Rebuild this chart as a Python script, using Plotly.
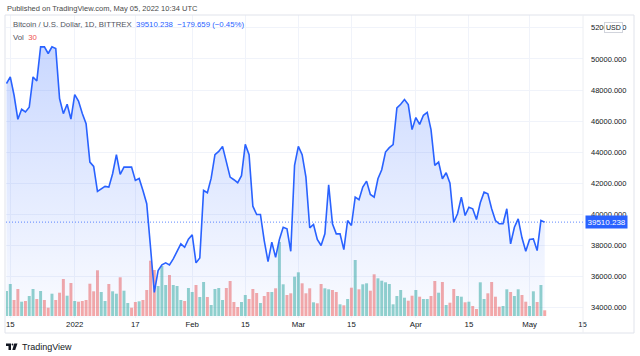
import pandas as pd
import plotly.graph_objects as go

# ---------------- data ----------------
start_date = "2021-12-14"

close = [
    48416, 48841, 47663, 46118, 46761, 46587, 46890, 48841, 48583, 50773,
    50773, 50348, 50773, 50670, 47450, 46484, 47083, 46136, 47708, 47296,
    46484, 45840, 43368, 43091, 41481, 41655, 41803, 41758, 42621, 43844,
    42576, 43046, 43060, 43046, 42189, 42318, 41545, 40689, 37894, 34997,
    36394, 36761, 36890, 36761, 37147, 37637, 38113, 37894, 38410, 38693,
    36890, 37212, 41545, 41397, 42337, 43844, 44057, 44379, 43368, 42402,
    42234, 42041, 42492, 44508, 43844, 40534, 40000, 40000, 38326, 36974,
    38216, 37250, 38390, 39182, 39079, 37637, 43155, 44379, 43844, 42402,
    39144, 39356, 38390, 38004, 38757, 41912, 39401, 38757, 38757, 37746,
    39614, 39292, 41114, 40947, 41758, 42144, 41288, 41114, 42299, 42878,
    44012, 44295, 44488, 46845, 47083, 47386, 47064, 45454, 46227, 45795,
    46375, 46568, 45454, 43155, 43368, 42299, 42685, 42015, 39504, 40045,
    41114, 39936, 40470, 40367, 39678, 40753, 41436, 41333, 40367, 39614,
    39401, 39401, 40367, 38113, 39182, 39723, 38500, 37637, 38390, 38435,
    37682, 39614, 39510.238,
]

volume = [
    25, 32, 16, 27, 14.3, 15, 20, 27, 17, 25,
    16, 8.3, 22.3, 16, 23.3, 37, 20.3, 33, 15, 14.3,
    15, 16, 32.3, 24.7, 45.7, 24, 15, 32, 24.7, 22.3,
    38.7, 25.3, 13, 8.3, 14, 14.7, 16, 26, 55.3, 46,
    30, 50, 31, 41, 31, 30, 16, 15, 28, 24,
    31, 19, 34, 19, 11, 27, 28, 16, 28, 35,
    14, 9, 14, 21, 17, 27, 23, 13, 20, 24,
    24, 27.7, 74, 31.7, 21, 22.7, 39.3, 43.7, 32.7, 22.7,
    27.7, 13.7, 12.7, 32, 27.7, 26.7, 26, 24, 11.7, 10.7,
    17, 28.3, 56, 26.7, 31.7, 32.7, 25.3, 41.7, 37.7, 35.3,
    33.7, 32, 11.7, 20, 26, 18.3, 15.3, 20.3, 26, 19.3,
    17, 17, 20, 35, 23.3, 34, 11, 13.3, 27, 20,
    19.3, 13.7, 14.3, 10, 7, 33.7, 17, 22.7, 34, 19.3,
    9.3, 10, 26.7, 24, 20, 26.7, 21, 14.3, 10, 24.7,
    14, 31, 5.7,
]

# u = up day (teal volume bar), d = down day (red volume bar)
direction = ("uudduduudu" "ddudddudud" "ddddduuduu" "duuddudddd" "uuuduuuduu"
             "duuduuuudd" "dduudddudd" "uduudduudd" "dudduuddud" "ududuudduu"
             "uuuuuuddud" "uuddududdu" "ududduuddd" "duuduudduu" "dud")

tick_dates = ["2021-12-15", "2022-01-01", "2022-01-17", "2022-02-01", "2022-02-15",
              "2022-03-01", "2022-03-15", "2022-04-01", "2022-04-15", "2022-05-01",
              "2022-05-15"]
tick_text = ["15", "2022", "17", "Feb", "15", "Mar", "15", "Apr", "15", "May", "15"]

last_price = close[-1]
change = -179.659
change_pct = -0.45

# ---------------- styling ----------------
W, H = 640, 356
PL, PR, PT, PB = 6, 583, 15, 318   # plot area in pixels
FONT = "Liberation Sans, Arial, sans-serif"
TXT = "#131722"
BLUE = "#2962FF"
UP = "rgba(38,166,154,0.5)"
DOWN = "rgba(239,83,80,0.5)"
GRID = "#f0f3fa"

def px(x):
    return (x - PL) / (PR - PL)

def py(y):
    return (PB - y) / (PB - PT)

dates = pd.date_range(start_date, periods=len(close), freq="D")
day = pd.Timedelta(days=1)
x_range = [dates[0] - 0.13 * day, dates[0] + 152.1 * day]

bar_colors = [UP if c == "u" else DOWN for c in direction]

fig = go.Figure()

# volume (bottom layer)
fig.add_trace(go.Bar(
    x=dates, y=volume, marker=dict(color=bar_colors, line=dict(width=0)),
    width=0.78 * 86400000, yaxis="y", hoverinfo="skip", showlegend=False,
))

# price area + line
fig.add_trace(go.Scatter(
    x=dates, y=close, mode="lines", yaxis="y2",
    line=dict(color=BLUE, width=1.6),
    fill="tozeroy",
    fillgradient=dict(type="vertical", start=33300, stop=50800,
                      colorscale=[[0, "rgba(41,98,255,0.02)"],
                                  [1, "rgba(41,98,255,0.25)"]]),
    showlegend=False, hoverinfo="skip",
))

fig.update_layout(
    width=W, height=H,
    margin=dict(l=PL, r=W - PR, t=PT, b=H - PB, pad=0),
    paper_bgcolor="white", plot_bgcolor="white",
    font=dict(family=FONT, size=8, color=TXT),
    bargap=0.2,
    xaxis=dict(type="date", range=x_range, tickvals=tick_dates, ticktext=tick_text,
               showgrid=True, gridcolor=GRID, gridwidth=1, zeroline=False,
               showline=False, ticks="", tickfont=dict(size=7.8, color=TXT),
               fixedrange=True),
    yaxis=dict(range=[-2, 301], visible=False, showgrid=False, fixedrange=True),
    yaxis2=dict(overlaying="y", side="right", range=[33348, 52821],
                tick0=0, dtick=2000, tickformat=".3f", showgrid=True,
                gridcolor=GRID, gridwidth=1, zeroline=False, showline=False,
                ticks="", ticklabelstandoff=7, tickfont=dict(size=7.5, color=TXT),
                fixedrange=True),
)

shapes = [
    # chart frame
    dict(type="rect", xref="paper", yref="paper", x0=px(5), x1=px(634),
         y0=py(15), y1=py(333), line=dict(color="#e0e3eb", width=1), layer="above"),
    # price-scale separator
    dict(type="line", xref="paper", yref="paper", x0=px(583), x1=px(583),
         y0=py(15), y1=py(333), line=dict(color="#eceef2", width=1)),
    # last price dotted line
    dict(type="line", xref="paper", yref="y2", x0=0, x1=1, y0=last_price, y1=last_price,
         line=dict(color="rgba(41,98,255,0.75)", width=1, dash="1px,2px")),
    # TradingView logo glyph
    dict(type="path", xref="paper", yref="paper",
         path=(f"M {px(6)},{py(343.5)} L {px(11)},{py(343.5)} L {px(11)},{py(350)} "
               f"L {px(8.5)},{py(350)} L {px(8.5)},{py(346)} L {px(6)},{py(346)} Z"),
         fillcolor=TXT, line=dict(width=0)),
    dict(type="circle", xref="paper", yref="paper", x0=px(11.6), x1=px(13.4),
         y0=py(343.6), y1=py(345.4), fillcolor=TXT, line=dict(width=0)),
    dict(type="path", xref="paper", yref="paper",
         path=(f"M {px(14.2)},{py(343.5)} L {px(17.5)},{py(343.5)} L {px(15.2)},{py(350)} "
               f"L {px(12.3)},{py(350)} Z"),
         fillcolor=TXT, line=dict(width=0)),
]

annotations = [
    dict(text="Published on TradingView.com, May 05, 2022 10:34 UTC",
         xref="paper", yref="paper", x=px(5), y=py(8), xanchor="left", yanchor="middle",
         showarrow=False, font=dict(size=7.5, color="#4a4a4a")),
    dict(text=(f"Bitcoin / U.S. Dollar, 1D, BITTREX  "
               f"<span style='color:{BLUE}'>{last_price:.3f}  "
               f"\u2212{abs(change):.3f} (\u2212{abs(change_pct):.2f}%)</span>"),
         xref="paper", yref="paper", x=px(11), y=py(25), xanchor="left", yanchor="middle",
         showarrow=False, font=dict(size=7.8, color="#50535e")),
    dict(text="Vol  <span style='color:#ef5350'>30</span>",
         xref="paper", yref="paper", x=px(11), y=py(37), xanchor="left", yanchor="middle",
         showarrow=False, font=dict(size=7.8, color="#50535e")),
    dict(text=f"{last_price:.3f}", xref="paper", yref="y2", x=px(585), y=last_price,
         xanchor="left", yanchor="middle", showarrow=False, bgcolor=BLUE,
         borderpad=1.5, font=dict(size=8, color="white")),
    dict(text="USD", xref="paper", yref="paper", x=px(613), y=py(28),
         xanchor="center", yanchor="middle", showarrow=False, bgcolor="white",
         bordercolor="#d1d4dc", borderwidth=1, borderpad=1,
         font=dict(size=7, color=TXT)),
    dict(text="TradingView", xref="paper", yref="paper", x=px(20), y=py(346.5),
         xanchor="left", yanchor="middle", showarrow=False,
         font=dict(size=9, color=TXT)),
]

fig.update_layout(shapes=shapes, annotations=annotations)
fig.write_html(
    "out.html",
    config={"displayModeBar": False, "staticPlot": True},
    post_script="document.body.style.margin='0';document.body.style.padding='0';",
)
